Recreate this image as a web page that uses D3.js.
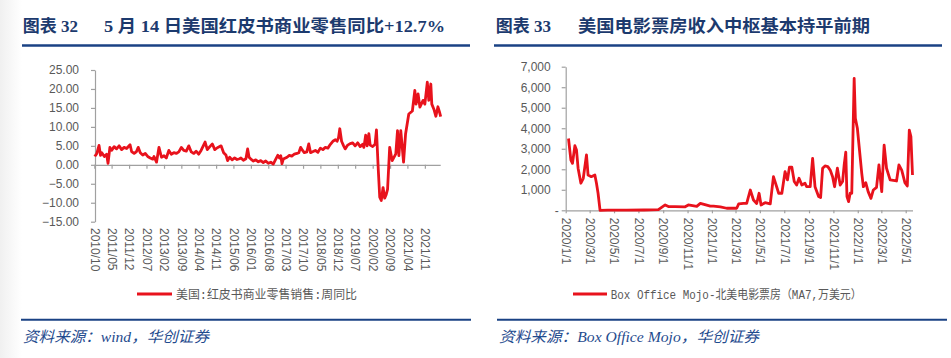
<!DOCTYPE html>
<html><head><meta charset="utf-8">
<script src="https://cdn.jsdelivr.net/npm/d3@7"></script>
<style>
body{margin:0;background:#fff;}
svg{display:block;}
.tick text{font-family:"Liberation Sans",Arial,sans-serif;font-size:12px;fill:#595959;}
</style>
</head><body>
<svg id="c" width="951" height="358"></svg>
<script>
// ---------- Left chart data (Redbook weekly YoY, %) ----------
const leftTitleNo = "图表 32";
const leftTitle = "5 月 14 日美国红皮书商业零售同比+12.7%";
const leftLegend = "美国:红皮书商业零售销售:周同比";
const leftSource = "资料来源：wind，华创证券";
const leftYTicks = [-15, -10, -5, 0, 5, 10, 15, 20, 25];
const leftXTicks = ["2010/10","2011/05","2011/12","2012/07","2013/02","2013/09","2014/04","2014/11","2015/06","2016/01","2016/08","2017/03","2017/10","2018/05","2018/12","2019/07","2020/02","2020/09","2021/04","2021/11"];
const leftDates = [
 "2010-10-01","2010-10-16","2010-11-01","2010-11-28","2010-12-16",
 "2011-01-01","2011-02-01","2011-03-01","2011-03-18","2011-04-10","2011-05-01","2011-06-01","2011-07-01","2011-08-01","2011-09-01","2011-10-01","2011-11-01","2011-12-13",
 "2012-01-01","2012-02-01","2012-03-01","2012-03-22","2012-04-16","2012-05-16","2012-06-16","2012-07-16","2012-08-16","2012-09-16","2012-10-01","2012-11-01","2012-12-01",
 "2013-01-01","2013-02-01","2013-03-01","2013-04-01","2013-05-01","2013-06-01","2013-07-01","2013-08-01","2013-09-01","2013-10-01","2013-11-01","2013-12-01",
 "2014-01-01","2014-02-01","2014-03-01","2014-04-01","2014-05-01","2014-06-19","2014-07-16","2014-08-16","2014-09-16","2014-10-16","2014-11-16",
 "2015-01-01","2015-02-01","2015-03-01","2015-03-22","2015-04-16","2015-05-16","2015-06-16","2015-07-16","2015-08-16","2015-09-01","2015-10-01","2015-11-01","2015-11-22","2015-12-10",
 "2016-01-01","2016-02-01","2016-03-01","2016-04-01","2016-05-01","2016-06-01","2016-07-01","2016-08-01","2016-09-01","2016-10-01","2016-11-01","2016-11-25","2016-12-16",
 "2017-01-01","2017-01-16","2017-02-01","2017-03-19","2017-04-16","2017-05-16","2017-06-16","2017-07-19","2017-08-10","2017-09-01","2017-09-25","2017-10-16","2017-11-16","2017-12-10",
 "2018-01-01","2018-02-01","2018-03-01","2018-04-01","2018-05-01","2018-06-01","2018-07-01","2018-08-01","2018-09-01","2018-10-01","2018-11-01","2018-11-22","2018-12-10","2018-12-25",
 "2019-01-16","2019-02-10","2019-03-01","2019-04-01","2019-05-01","2019-06-01","2019-07-01","2019-08-01","2019-09-01","2019-10-01","2019-10-16","2019-11-07","2019-11-25","2019-12-16",
 "2020-01-01","2020-02-01","2020-03-01","2020-03-18","2020-04-10","2020-04-27","2020-05-16","2020-06-07","2020-06-27","2020-07-16","2020-08-01","2020-08-27","2020-09-27","2020-11-10","2020-12-01","2020-12-18",
 "2021-01-10","2021-02-13","2021-03-10","2021-04-18","2021-06-01","2021-07-01","2021-07-16","2021-08-10","2021-09-01","2021-10-10","2021-11-01","2021-12-01","2021-12-19",
 "2022-01-13","2022-01-25","2022-02-22","2022-03-16","2022-04-10","2022-04-28","2022-05-14"];
const leftValues = [
 2.7,2.5,3.0,5.1,2.5,
 3.2,2.2,2.8,0.4,4.6,3.8,4.8,4.2,5.0,4.0,4.6,4.3,5.3,
 3.5,3.0,3.5,4.6,3.2,2.6,3.0,2.2,1.8,1.5,2.2,0.7,4.6,
 2.0,2.4,1.8,3.8,2.8,3.2,3.0,3.4,4.6,3.8,3.6,5.0,
 3.4,3.0,3.6,2.8,3.8,6.0,4.0,4.8,5.5,4.0,4.5,
 5.0,3.2,2.6,1.1,2.0,1.3,1.8,1.4,1.6,1.8,1.2,1.6,4.2,2.0,
 1.5,1.0,1.3,0.8,1.1,0.6,1.0,0.4,0.7,0.2,1.5,2.5,1.8,
 2.4,0.3,1.5,2.0,2.5,2.3,2.8,3.0,3.2,4.6,3.8,3.2,3.4,5.5,
 3.2,3.5,3.8,3.3,4.4,4.0,4.6,4.4,5.4,6.2,6.6,6.2,7.2,9.5,
 6.2,5.0,4.2,5.2,5.6,5.8,5.0,5.8,4.8,5.4,4.6,7.8,5.0,8.2,
 5.2,4.8,5.4,9.2,-1.5,-8.5,-9.4,-6.0,-8.8,-7.8,-6.5,4.6,1.1,2.9,9.0,2.4,
 9.0,0.7,8.2,13.4,14.2,19.6,16.0,18.7,15.2,17.0,16.0,21.8,17.0,
 21.3,16.0,14.5,12.8,15.3,14.0,12.7];

// ---------- Right chart data (Box Office Mojo MA7, 万美元) ----------
const rightTitleNo = "图表 33";
const rightTitle = "美国电影票房收入中枢基本持平前期";
const rightLegend = "Box Office Mojo-北美电影票房（MA7,万美元）";
const rightSource = "资料来源：Box Office Mojo，华创证券";
const rightYTicks = [0, 1000, 2000, 3000, 4000, 5000, 6000, 7000];
const rightXTicks = ["2020/1/1","2020/3/1","2020/5/1","2020/7/1","2020/9/1","2020/11/1","2021/1/1","2021/3/1","2021/5/1","2021/7/1","2021/9/1","2021/11/1","2022/1/1","2022/3/1","2022/5/1"];
const rightDates = [
 "2020-01-08","2020-01-14","2020-01-18","2020-01-24","2020-01-28","2020-02-01","2020-02-08","2020-02-14","2020-02-22","2020-02-26",
 "2020-03-05","2020-03-14","2020-03-18","2020-03-22","2020-03-27","2020-04-15","2020-06-01","2020-07-15","2020-08-20",
 "2020-09-06","2020-09-14","2020-10-01","2020-10-26","2020-11-03","2020-11-24","2020-12-03","2020-12-28",
 "2021-01-05","2021-01-22","2021-02-07","2021-03-04","2021-03-09","2021-03-21","2021-03-29","2021-04-07","2021-04-15","2021-04-23","2021-04-29",
 "2021-05-04","2021-05-14","2021-05-27","2021-06-04","2021-06-12","2021-06-17","2021-06-25","2021-07-03","2021-07-09","2021-07-14","2021-07-20","2021-07-26",
 "2021-08-01","2021-08-07","2021-08-14","2021-08-22","2021-08-26","2021-09-04","2021-09-10","2021-09-16","2021-09-25","2021-09-30",
 "2021-10-05","2021-10-11","2021-10-18","2021-10-24","2021-10-30","2021-11-04","2021-11-11","2021-11-18","2021-11-24","2021-11-28",
 "2021-12-02","2021-12-05","2021-12-09","2021-12-13","2021-12-17","2021-12-23","2021-12-26","2021-12-31",
 "2022-01-11","2022-01-15","2022-01-21","2022-01-27","2022-02-03","2022-02-09","2022-02-17","2022-02-23",
 "2022-03-02","2022-03-08","2022-03-14","2022-03-23","2022-04-08","2022-04-14","2022-04-21","2022-04-29",
 "2022-05-05","2022-05-10","2022-05-14","2022-05-18"];
const rightValues = [
 3500,2450,2290,3150,2940,2050,1320,1560,2700,1720,
 1640,1720,1320,830,0,10,10,15,30,
 260,180,180,170,260,190,340,200,
 200,170,100,100,310,340,340,990,500,330,830,
 260,370,310,1640,1150,830,830,1880,1480,2100,2100,1400,
 1230,1560,1230,1320,1150,1150,2530,1150,670,620,
 2050,2160,2130,1960,1640,1150,2050,1230,1400,2210,
 2830,670,420,830,830,6430,4480,4000,
 1800,1150,1350,910,580,990,1120,2210,
 910,3180,2050,1480,1430,2210,1960,1350,
 1185,3910,3590,1720];

// ---------- Drawing ----------
const svg = d3.select("#c");
const RED = "#e8121c", NAVY = "#1c3a6e", RULE = "#1a4284", AXIS = "#a0a0a0", GRAY = "#595959";
const parseD = d3.timeParse("%Y-%m-%d");

// faint left edge shade
const grad = svg.append("defs").append("linearGradient").attr("id","edge");
grad.append("stop").attr("offset","0").attr("stop-color","#f0f0f0");
grad.append("stop").attr("offset","1").attr("stop-color","#ffffff");
svg.append("rect").attr("x",0).attr("y",0).attr("width",22).attr("height",358).attr("fill","url(#edge)");

function header(x0, x1, numX, no, titleX, title, titleW){
  const f = '"Liberation Serif","Times New Roman","Noto Sans CJK SC",serif';
  svg.append("text").attr("x",numX).attr("y",32).attr("fill",NAVY)
    .style("font-family",f).style("font-size","17px").style("font-weight","bold").text(no);
  svg.append("text").attr("x",titleX).attr("y",32).attr("fill",NAVY)
    .attr("textLength",titleW).attr("lengthAdjust","spacingAndGlyphs")
    .style("font-family",f).style("font-size","17px").style("font-weight","bold").text(title);
  svg.append("line").attr("x1",x0).attr("x2",x1).attr("y1",45.5).attr("y2",45.5)
    .attr("stroke",RULE).attr("stroke-width",2.5);
}
function footer(x0, x1, src, w){
  svg.append("line").attr("x1",x0).attr("x2",x1).attr("y1",319.7).attr("y2",319.7)
    .attr("stroke",RULE).attr("stroke-width",2);
  svg.append("text").attr("x",x0+2).attr("y",342).attr("fill","#1f4b8e")
    .attr("textLength",w).attr("lengthAdjust","spacingAndGlyphs")
    .style("font-family",'"Liberation Serif","Noto Sans CJK SC",serif').style("font-size","15px")
    .style("font-style","italic").text(src);
}
function legend(lx0, lx1, y, label, tx, tw){
  svg.append("line").attr("x1",lx0).attr("x2",lx1).attr("y1",y).attr("y2",y)
    .attr("stroke",RED).attr("stroke-width",3);
  svg.append("text").attr("x",tx).attr("y",y+4.5).attr("fill",GRAY)
    .attr("textLength",tw).attr("lengthAdjust","spacingAndGlyphs")
    .style("font-family",'"Liberation Mono","Noto Sans CJK SC",monospace').style("font-size","12px").text(label);
}
function styleAxis(g){
  g.select(".domain").attr("stroke",AXIS).attr("stroke-width",1.2);
  g.selectAll(".tick line").attr("stroke",AXIS).attr("stroke-width",1.2);
}

header(22, 470, 22.7, leftTitleNo, 104, leftTitle, 341);
header(494, 942, 495.7, rightTitleNo, 578, rightTitle, 292);
footer(21, 471, leftSource, 186);
footer(497, 947, rightSource, 260);

// ----- Left chart -----
const xL = d3.scaleTime().domain([parseD("2010-10-01"), parseD("2022-05-14")]).range([94.3, 440.7]);
const yL = d3.scaleLinear().domain([-15, 25]).range([221.7, 70]);
const parseM = d3.timeParse("%Y/%m");
const lTicks = leftXTicks.map(parseM);

const gyL = svg.append("g").attr("transform","translate(95,0)")
  .call(d3.axisLeft(yL).tickValues(leftYTicks).tickFormat(d3.format(".2f")).tickSize(4).tickSizeOuter(0).tickPadding(12));
styleAxis(gyL);

const gx0L = svg.append("g").attr("transform",`translate(0,${yL(0)})`)
  .call(d3.axisBottom(xL).tickValues(lTicks).tickSize(4).tickSizeOuter(0).tickFormat(""));
styleAxis(gx0L);
gx0L.select(".domain").attr("d",`M95,0.5H${xL.range()[1]}`);

const gxlL = svg.append("g").attr("transform","translate(0,228)")
  .call(d3.axisBottom(xL).tickValues(lTicks).tickSize(0).tickFormat(d3.timeFormat("%Y/%m")));
gxlL.select(".domain").remove();
gxlL.selectAll(".tick text").attr("transform","rotate(90)").attr("x",0).attr("y",0)
  .attr("dy","0.35em").style("text-anchor","start");

const leftData = leftDates.map((d,i)=>({d:parseD(d), v:leftValues[i]}));
svg.append("path").datum(leftData)
  .attr("d", d3.line().x(p=>xL(p.d)).y(p=>yL(p.v)))
  .attr("fill","none").attr("stroke",RED).attr("stroke-width",2.8).attr("stroke-linejoin","round");

legend(137, 172, 294, leftLegend, 176, 181);

// ----- Right chart -----
const xR = d3.scaleTime().domain([parseD("2020-01-01"), parseD("2022-05-18")]).range([565.7, 912.5]);
const yR = d3.scaleLinear().domain([0, 7000]).range([210.3, 66.7]);
const parseMD = d3.timeParse("%Y/%m/%d");
const rTicks = rightXTicks.map(parseMD);

const gyR = svg.append("g").attr("transform","translate(565.7,0)")
  .call(d3.axisLeft(yR).tickValues(rightYTicks).tickFormat(v => v === 0 ? "-" : d3.format(",")(v)).tickSize(4).tickSizeOuter(0).tickPadding(11));
styleAxis(gyR);
gyR.selectAll(".tick text").filter(v => v === 0).attr("x",-7);

const gxR = svg.append("g").attr("transform",`translate(0,${yR(0)})`)
  .call(d3.axisBottom(xR).tickValues(rTicks).tickSize(3).tickSizeOuter(0).tickPadding(7)
    .tickFormat(d3.timeFormat("%Y/%-m/%-d")));
styleAxis(gxR);
gxR.selectAll(".tick text").attr("transform","rotate(90)").attr("x",7.5).attr("y",0)
  .attr("dy","0.35em").style("text-anchor","start");

const rightData = rightDates.map((d,i)=>({d:parseD(d), v:rightValues[i]}));
svg.append("path").datum(rightData)
  .attr("d", d3.line().x(p=>xR(p.d)).y(p=>yR(p.v)))
  .attr("fill","none").attr("stroke",RED).attr("stroke-width",2.8).attr("stroke-linejoin","round");

legend(573, 607, 294, rightLegend, 610.7, 251);
</script>
</body></html>
